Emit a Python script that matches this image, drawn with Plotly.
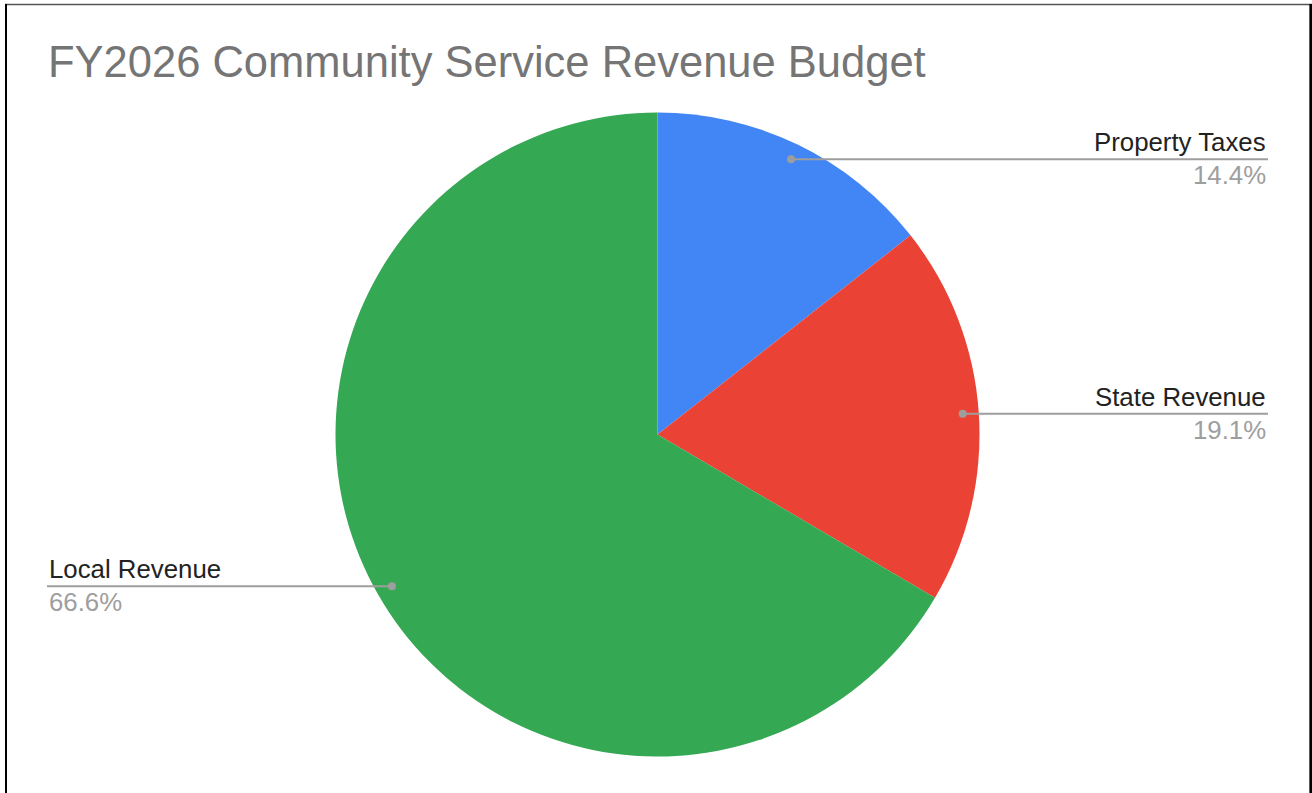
import math
import plotly.graph_objects as go

# Revenue sources and their share of the FY2026 budget (percent)
categories = ["Property Taxes", "State Revenue", "Local Revenue"]
shares = [14.4, 19.1, 66.6]
share_labels = ["14.4%", "19.1%", "66.6%"]
colors = ["#4285F4", "#EA4335", "#34A853"]

W, H = 1312, 793
CX, CY, R = 657.5, 434.5, 322      # pie centre and radius, px
DOT_R = 0.95                        # leader dot, fraction of radius
RIGHT_EDGE, LEFT_EDGE = 1268, 47    # outer ends of the leader lines
FONT = "Liberation Sans, Arial, Helvetica, sans-serif"


def px(x):
    return x / W


def py(y):
    return 1 - y / H


fig = go.Figure(
    go.Pie(
        labels=categories,
        values=shares,
        marker=dict(colors=colors, line=dict(width=0)),
        sort=False,
        direction="clockwise",
        rotation=0,
        textinfo="none",
        hovertemplate="%{label}: %{value}%<extra></extra>",
        showlegend=False,
        domain=dict(x=[px(CX - R), px(CX + R)], y=[py(CY + R), py(CY - R)]),
    )
)

shapes = []
annotations = []
total = sum(shares)
start = 0.0
for name, val, lab in zip(categories, shares, share_labels):
    mid = (start + val / 2) / total * 2 * math.pi   # clockwise from 12 o'clock
    start += val
    dx = CX + DOT_R * R * math.sin(mid)
    dy = CY - DOT_R * R * math.cos(mid)
    right_side = math.sin(mid) >= 0
    end_x = RIGHT_EDGE if right_side else LEFT_EDGE
    anchor = "right" if right_side else "left"
    shapes.append(dict(type="line", xref="paper", yref="paper",
                       x0=px(dx), y0=py(dy), x1=px(end_x), y1=py(dy),
                       line=dict(color="#9e9e9e", width=2)))
    shapes.append(dict(type="circle", xref="paper", yref="paper",
                       x0=px(dx - 4), x1=px(dx + 4), y0=py(dy - 4), y1=py(dy + 4),
                       fillcolor="#9e9e9e", line=dict(width=0)))
    annotations.append(dict(text=name, xref="paper", yref="paper",
                            x=px(end_x), y=py(dy - 17), xanchor=anchor, yanchor="middle",
                            showarrow=False, font=dict(family=FONT, size=25.8, color="#222222")))
    annotations.append(dict(text=lab, xref="paper", yref="paper",
                            x=px(end_x), y=py(dy + 16), xanchor=anchor, yanchor="middle",
                            showarrow=False, font=dict(family=FONT, size=25.8, color="#9e9e9e")))

# Chart title
annotations.append(dict(text="FY2026 Community Service Revenue Budget",
                        xref="paper", yref="paper", x=px(46), y=py(62),
                        xanchor="left", yanchor="middle", showarrow=False,
                        font=dict(family=FONT, size=43.5, color="#757575")))

# Frame around the chart
shapes += [
    dict(type="line", xref="paper", yref="paper", x0=px(5), x1=px(1312), y0=py(4.6), y1=py(4.6),
         line=dict(color="#555555", width=1.5)),
    dict(type="line", xref="paper", yref="paper", x0=px(6), x1=px(6), y0=py(4), y1=py(800),
         line=dict(color="#000000", width=2)),
    dict(type="line", xref="paper", yref="paper", x0=px(1310.7), x1=px(1310.7), y0=py(4), y1=py(800),
         line=dict(color="#000000", width=2.7)),
]

fig.update_layout(
    width=W, height=H,
    margin=dict(l=0, r=0, t=0, b=0),
    paper_bgcolor="white", plot_bgcolor="white",
    shapes=shapes, annotations=annotations,
)

fig.write_html("out.html", config={"displayModeBar": False})
